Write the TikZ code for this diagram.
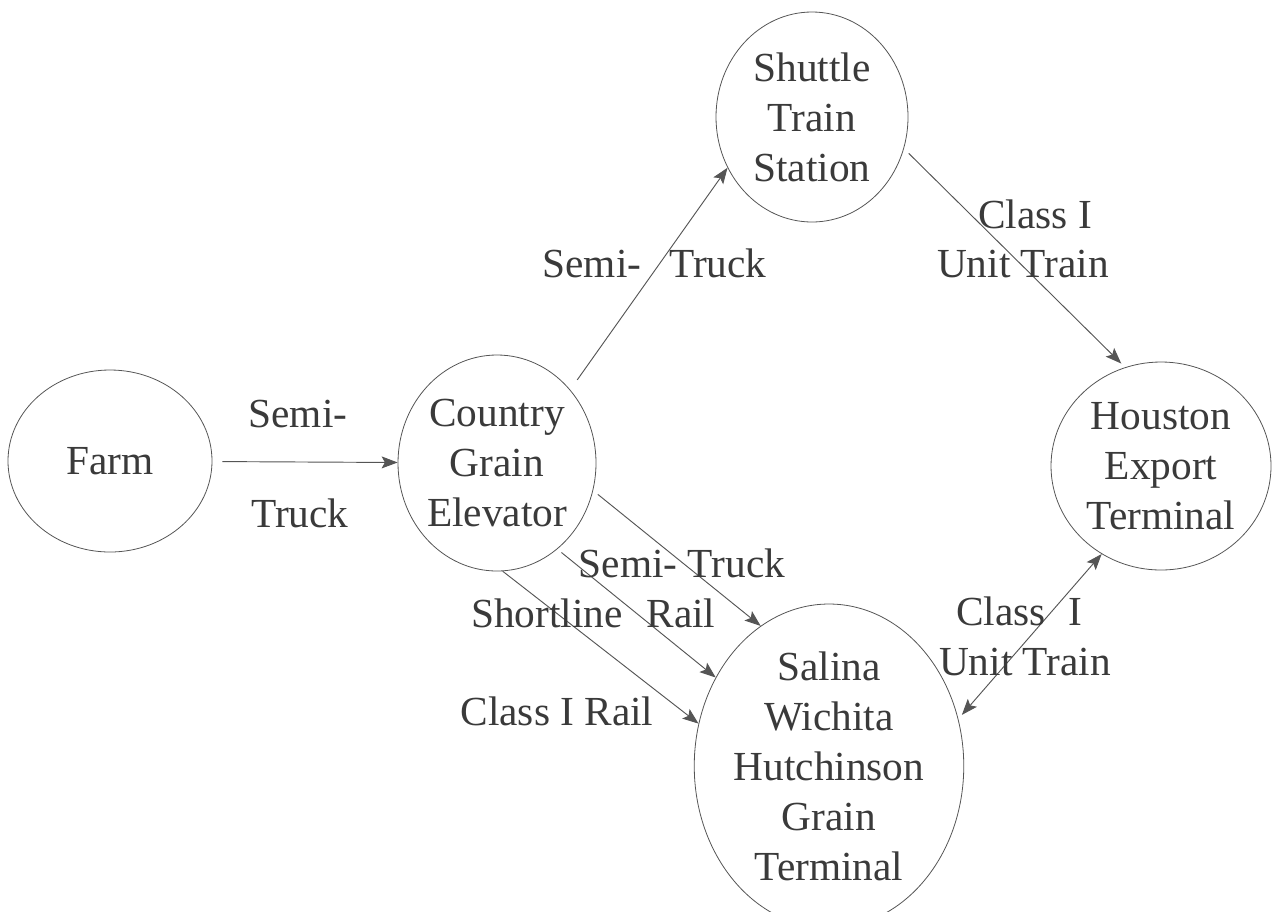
\documentclass[tikz,border=0pt]{standalone}
\usepackage{fontspec}
\setmainfont{Liberation Serif}
\usetikzlibrary{arrows.meta,shapes.geometric}
\definecolor{ink}{HTML}{3A3A3A}
\definecolor{edgec}{HTML}{555555}
\begin{document}
\begin{tikzpicture}[x=0.75pt,y=-0.75pt,
  site/.style={ellipse,draw=edgec,line width=0.6pt,inner sep=0pt,align=center,text=ink,font=\fontsize{31}{37.5}\selectfont},
  lbl/.style={anchor=base,inner sep=0pt,text=ink,font=\fontsize{31}{37.5}\selectfont},
  tip/.tip={Stealth[length=12pt,width=9pt,inset=2.5pt]},
  arr/.style={draw=edgec,line width=0.7pt,-tip},
  dbl/.style={draw=edgec,line width=0.7pt,tip-tip}]
\useasboundingbox (0,0) rectangle (1273,911);
\node[site,minimum width=153pt,minimum height=136.5pt] (farm) at (110,461) {Farm};
\node[site,minimum width=142.5pt,minimum height=162pt] (elev) at (497,463) {Country\\Grain\\Elevator};
\node[site,minimum width=144pt,minimum height=157.5pt] (shuttle) at (812,117) {Shuttle\\Train\\Station};
\node[site,minimum width=165pt,minimum height=156pt] (houston) at (1161,466) {Houston\\Export\\Terminal};
\node[site,minimum width=196.5pt,minimum height=216pt] (salina) at (829,766) {Salina\\Wichita\\Hutchinson\\Grain\\Terminal};

\draw[arr,shorten <=7.5pt] (farm) -- (elev);
\draw[arr,shorten <=9pt] (elev.45) -- (shuttle.211.3);
\draw[arr,shorten <=5pt,shorten >=4pt] (shuttle.-19.65) -- (houston.110.7);
\draw[arr,shorten <=4.5pt] (elev.-16.5) -- (salina.116.6);
\draw[arr,shorten <=4pt] (elev.-55.9) -- (salina.142.7);
\draw[arr] (elev.-87.3) -- (salina.162);
\draw[dbl,shorten >=4pt] (houston.236.9) -- (salina.20.1);

\node[lbl] (l1a) at (298,427) {Semi-};
\node[lbl] (l1b) at (300,527) {Truck};
\node[lbl] (l2a) at (592,277) {Semi-};
\node[lbl] (l2b) at (718,277) {Truck};
\node[lbl] (l3a) at (1035,228) {Class I};
\node[lbl] (l3b) at (1023,277) {Unit Train};
\node[lbl] (l4) at (682,577) {Semi- Truck};
\node[lbl] (l5a) at (547,627) {Shortline};
\node[lbl] (l5b) at (681,627) {Rail};
\node[lbl] (l6) at (557,725) {Class I Rail};
\node[lbl] (l7a) at (1001,625) {Class};
\node[lbl] (l7b) at (1075,625) {I};
\node[lbl] (l7c) at (1025,675) {Unit Train};
\end{tikzpicture}
\end{document}
